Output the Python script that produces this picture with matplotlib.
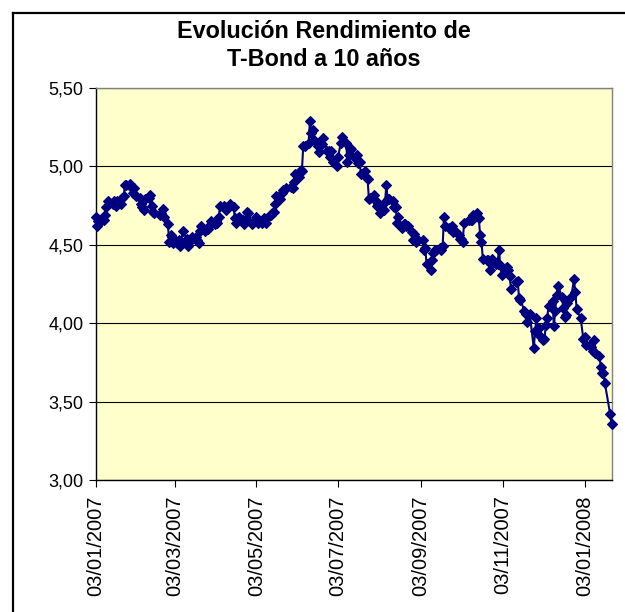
import numpy as np
import pandas as pd
import matplotlib
matplotlib.use("Agg")
import matplotlib.pyplot as plt
import matplotlib.dates as mdates
from matplotlib.lines import Line2D
from matplotlib.ticker import FuncFormatter

plt.rcParams['font.family'] = ['Liberation Sans', 'DejaVu Sans']

# bond market closed days (no quote)
holidays = ['2007-01-15', '2007-02-19', '2007-05-28', '2007-07-04', '2007-09-03',
            '2007-10-08', '2007-11-12', '2007-11-22', '2007-12-25', '2008-01-01',
            '2008-01-21']

jan07 = [4.68, 4.62, 4.65, 4.66, 4.66, 4.69, 4.74, 4.78, 4.76, 4.78,
         4.75, 4.78, 4.76, 4.80, 4.81, 4.88, 4.88, 4.89, 4.86, 4.83]
feb07 = [4.86, 4.81, 4.80, 4.76, 4.74, 4.72, 4.79, 4.80, 4.82, 4.75,
         4.71, 4.70, 4.69, 4.70, 4.73, 4.68, 4.63, 4.52, 4.56]
mar07 = [4.55, 4.51, 4.51, 4.53, 4.49, 4.51, 4.59, 4.54, 4.49, 4.52, 4.53,
         4.55, 4.55, 4.53, 4.51, 4.59, 4.62, 4.59, 4.60, 4.60, 4.62, 4.65]
apr07 = [4.63, 4.65, 4.64, 4.68, 4.75, 4.75, 4.72, 4.74, 4.74, 4.76, 4.74,
         4.67, 4.64, 4.67, 4.68, 4.66, 4.63, 4.66, 4.71, 4.70, 4.63]
may07 = [4.65, 4.66, 4.68, 4.64, 4.64, 4.65, 4.67, 4.64, 4.67, 4.69, 4.70,
         4.71, 4.76, 4.81, 4.79, 4.83, 4.85, 4.85, 4.86, 4.87, 4.86, 4.90]
jun07 = [4.95, 4.93, 4.98, 4.97, 5.13, 5.13, 5.15, 5.29, 5.21, 5.23, 5.17,
         5.13, 5.09, 5.14, 5.14, 5.18, 5.10, 5.10, 5.06, 5.10, 5.03]
jul07 = [5.00, 5.06, 5.15, 5.19, 5.15, 5.03, 5.07, 5.12, 5.11, 5.05, 5.07,
         5.02, 5.03, 4.95, 4.97, 4.93, 4.92, 4.79, 4.80, 4.82, 4.78]
aug07 = [4.75, 4.76, 4.70, 4.72, 4.77, 4.88, 4.79, 4.79, 4.78, 4.74, 4.74, 4.64,
         4.68, 4.61, 4.63, 4.63, 4.62, 4.62, 4.58, 4.53, 4.57, 4.52, 4.54]
sep07 = [4.53, 4.47, 4.48, 4.38, 4.34, 4.40, 4.45, 4.47, 4.47, 4.48,
         4.47, 4.49, 4.68, 4.62, 4.61, 4.60, 4.62, 4.58, 4.59]
oct07 = [4.56, 4.54, 4.54, 4.52, 4.64, 4.66, 4.66, 4.66, 4.69, 4.70, 4.67,
         4.56, 4.52, 4.41, 4.40, 4.40, 4.34, 4.38, 4.41, 4.38, 4.38, 4.47]
nov07 = [4.37, 4.31, 4.35, 4.36, 4.34, 4.30, 4.22, 4.26, 4.27, 4.16,
         4.15, 4.08, 4.06, 4.01, 4.06, 3.84, 3.95, 4.03, 3.93, 3.97]
dec07 = [3.89, 3.90, 3.99, 4.03, 4.11, 4.14, 3.98, 4.08, 4.18, 4.24,
         4.17, 4.10, 4.04, 4.05, 4.13, 4.17, 4.28, 4.20, 4.09, 4.03]
jan08 = [3.90, 3.91, 3.86, 3.86, 3.85, 3.82, 3.89, 3.81, 3.79, 3.72,
         3.68, 3.68, 3.62, 3.42, 3.36]

yields = jan07 + feb07 + mar07 + apr07 + may07 + jun07 + jul07 + aug07 + sep07 + oct07 + nov07 + dec07 + jan08
dates = pd.bdate_range('2007-01-03', '2008-01-23')
dates = dates[~dates.isin(pd.to_datetime(holidays))]

tick_dates = pd.to_datetime(['2007-01-03', '2007-03-03', '2007-05-03', '2007-07-03',
                             '2007-09-03', '2007-11-03', '2008-01-03'])
y_ticks = [3.0, 3.5, 4.0, 4.5, 5.0, 5.5]

fig = plt.figure(figsize=(6.25, 6.12), dpi=100)
ax = fig.add_axes([95.5 / 625, 1 - 480 / 612, 516 / 625, 392 / 612])
ax.set_facecolor('#FFFFCC')

ax.plot(dates, yields, color='#000080', lw=1.5, marker='D', ms=5, mew=0.8, mec='#000080',
        zorder=3, clip_on=False)

ax.set_ylim(3.0, 5.5)
ax.set_xlim(dates[0], dates[-1])
ax.set_yticks(y_ticks)
ax.yaxis.set_major_formatter(FuncFormatter(lambda v, p: f"{v:.2f}".replace('.', ',')))
ax.set_xticks(tick_dates)
ax.xaxis.set_major_formatter(mdates.DateFormatter('%d/%m/%Y'))
plt.setp(ax.get_xticklabels(), rotation=90)
ax.tick_params(axis='both', length=5, width=0.8, color='black', direction='out')
ax.tick_params(axis='y', labelsize=13)
ax.tick_params(axis='x', labelsize=14.5, pad=6)
ax.grid(axis='y', color='black', lw=0.8)
ax.set_axisbelow(True)

for s in ['top', 'right']:
    ax.spines[s].set_color('#808080')
for s in ['left', 'bottom']:
    ax.spines[s].set_color('black')
for s in ax.spines.values():
    s.set_linewidth(1.0)

fig.text(324 / 625, 1 - 31 / 612, 'Evolución Rendimiento de', ha='center', va='center',
         fontsize=16.8, fontweight='bold')
fig.text(324 / 625, 1 - 60 / 612, 'T-Bond a 10 años', ha='center', va='center',
         fontsize=16.8, fontweight='bold')

# chart area border (left and top are visible)
fig.add_artist(Line2D([12.5 / 625, 12.5 / 625], [0, 1 - 13 / 612], color='black', lw=1.6))
fig.add_artist(Line2D([12.5 / 625, 1], [1 - 13 / 612, 1 - 13 / 612], color='black', lw=1.6))

fig.savefig('out.png', dpi=100)
